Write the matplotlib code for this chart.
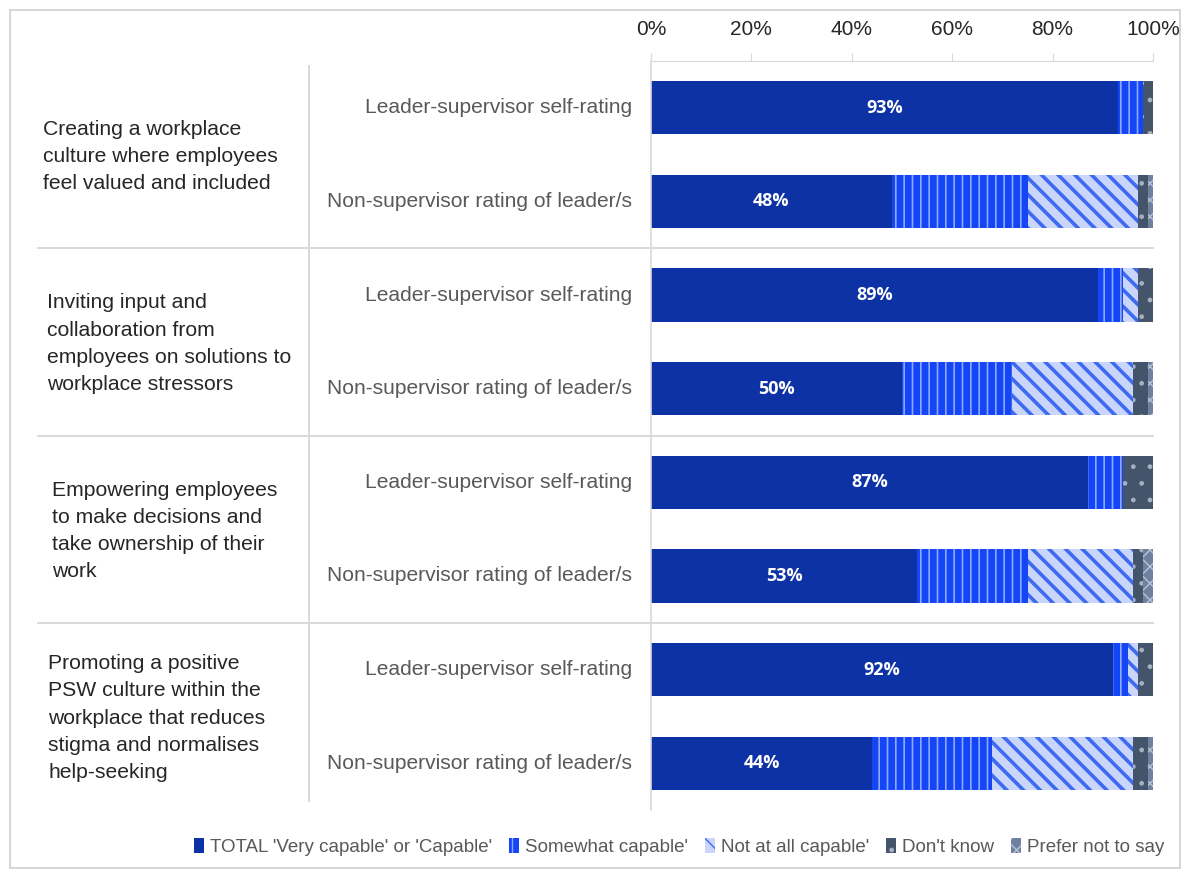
import matplotlib
matplotlib.use("Agg")
from matplotlib import pyplot as plt
from matplotlib.patches import Rectangle, Patch
import numpy as np

plt.rcParams['font.family'] = ['Liberation Sans', 'DejaVu Sans']

groups = [
    "Creating a workplace\nculture where employees\nfeel valued and included",
    "Inviting input and\ncollaboration from\nemployees on solutions to\nworkplace stressors",
    "Empowering employees\nto make decisions and\ntake ownership of their\nwork",
    "Promoting a positive\nPSW culture within the\nworkplace that reduces\nstigma and normalises\nhelp-seeking",
]
raters = ["Leader-supervisor self-rating", "Non-supervisor rating of leader/s"]

series_names = ["TOTAL 'Very capable' or 'Capable'", "Somewhat capable'",
                "Not at all capable'", "Don't know", "Prefer not to say"]

# one value per bar, in order: group1 leader, group1 non-sup, group2 leader, ...
capable = [93, 48, 89, 50, 87, 53, 92, 44]
somewhat = [5, 27, 5, 22, 7, 22, 3, 24]
not_at_all = [0, 22, 3, 24, 0, 21, 2, 28]
dont_know = [2, 2, 3, 3, 6, 2, 3, 3]
prefer_not = [0, 1, 0, 1, 0, 2, 0, 1]

xticks = [0, 20, 40, 60, 80, 100]

styles = [
    dict(color='#0c32a5', edge='#0c32a5', hatch=None, hlw=1.0),
    dict(color='#1446f5', edge='#8fa8ff', hatch='||', hlw=1.2),
    dict(color='#c9d5fa', edge='#3d6af0', hatch='\\\\', hlw=2.6),
    dict(color='#44546a', edge='#a5b0c0', hatch='.', hlw=1.0),
    dict(color='#6e82a0', edge='#b8c4d6', hatch='xx', hlw=1.0),
]

W, H = 1188, 874
fig = plt.figure(figsize=(W / 100, H / 100), dpi=100)
ax = fig.add_axes([651 / W, 1 - 810 / H, 502 / W, 749 / H])

y = np.arange(len(capable))
data = [capable, somewhat, not_at_all, dont_know, prefer_not]
left = np.zeros(len(y))
handles = []
for vals, st, name in zip(data, styles, series_names):
    plt.rcParams['hatch.linewidth'] = st['hlw']
    vals = np.array(vals, dtype=float)
    ax.barh(y, vals, left=left, height=0.57, color=st['color'],
            edgecolor=st['edge'], hatch=st['hatch'], linewidth=0)
    handles.append(Patch(facecolor=st['color'], edgecolor=st['edge'],
                         hatch=st['hatch'], linewidth=0, label=name))
    left += vals

for yi, v in zip(y, capable):
    ax.text(v / 2, yi, f"{v}%", color='white', fontsize=13, fontweight='bold',
            ha='center', va='center', family=['Open Sans', 'DejaVu Sans'])

ax.set_xlim(0, 100)
ax.set_ylim(len(y) - 0.5, -0.5)
ax.xaxis.tick_top()
ax.set_xticks(xticks)
ax.set_xticklabels([f"{t}%" for t in xticks], fontsize=15, color='#262626')
ax.tick_params(axis='x', length=6, color='#d9d9d9', pad=9.5)
ax.set_yticks([])
for s in ['right', 'bottom']:
    ax.spines[s].set_visible(False)
ax.spines['top'].set_color('#d9d9d9')
ax.spines['left'].set_color('#d9d9d9')
ax.spines['left'].set_linewidth(1.2)

# rater labels
trans = ax.get_yaxis_transform()
for yi in y:
    ax.text(-0.038, yi, raters[yi % 2], transform=trans, ha='right', va='center',
            fontsize=15.1, color='#595959')

# group labels (slightly different indents, as in the original) and separators
grp_px = [43, 47, 52, 48]
for gi, g in enumerate(groups):
    yc = gi * 2 + 0.5
    ax.text((grp_px[gi] - 651) / 502, yc + 0.02, g, transform=trans, ha='left',
            va='center', fontsize=15.2, color='#262626', linespacing=1.55)
for gi in range(1, len(groups)):
    ax.plot([(38 - 651) / 502, 1.0], [gi * 2 - 0.5] * 2, transform=trans,
            color='#d9d9d9', lw=1.4, clip_on=False)
ax.plot([(309 - 651) / 502] * 2, [-0.45, 7.4], transform=trans,
        color='#d9d9d9', lw=1.4, clip_on=False)

fig.legend(handles=handles, loc='center', bbox_to_anchor=(679 / W, 1 - 847 / H),
           ncol=5, frameon=False, fontsize=13.5, handlelength=0.55, handleheight=0.9,
           handletextpad=0.3, columnspacing=0.9, labelcolor='#595959')

fig.add_artist(Rectangle((10 / W, 6 / H), 1170 / W, 858 / H, transform=fig.transFigure,
                         fill=False, edgecolor='#d0d0d0', lw=1.2))

plt.savefig("out.png")
